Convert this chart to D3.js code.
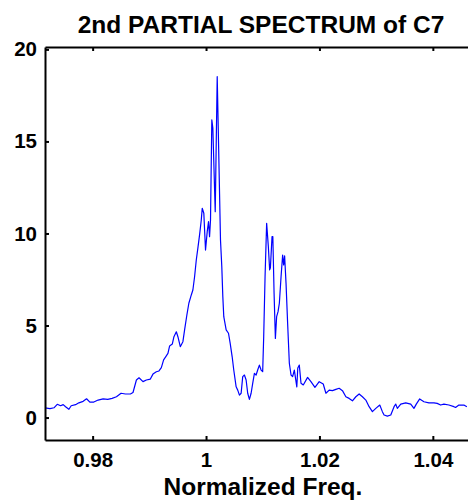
<!DOCTYPE html>
<html>
<head>
<meta charset="utf-8">
<script src="https://cdn.jsdelivr.net/npm/d3@7"></script>
<style>
  body { margin: 0; background: #fff; }
  svg { display: block; font-family: "Liberation Sans", Arial, sans-serif; }
</style>
</head>
<body>
<svg id="chart" width="468" height="501"></svg>
<script>
// values
const freq = [0.97142, 0.97247, 0.97318, 0.97376, 0.97435, 0.97481, 0.97523, 0.97581, 0.97622, 0.97699,
  0.97757, 0.97833, 0.97893, 0.97951, 0.98021, 0.98097, 0.98185, 0.98267, 0.98343, 0.9842,
  0.98501, 0.98579, 0.98667, 0.98712, 0.98772, 0.98818, 0.98888, 0.98948, 0.99018, 0.99064,
  0.99124, 0.9917, 0.99212, 0.99252, 0.99288, 0.99328, 0.99358, 0.99405, 0.99434, 0.99476,
  0.99504, 0.99546, 0.99592, 0.99622, 0.99662, 0.99697, 0.9974, 0.99768, 0.99798, 0.99828,
  0.99856, 0.99886, 0.99916, 0.99933, 0.99961, 0.99991, 1.00021, 1.00044, 1.00062, 1.00079,
  1.00102, 1.0012, 1.00162, 1.00197, 1.00255, 1.00278, 1.00296, 1.00313, 1.00355, 1.00396,
  1.00426, 1.00461, 1.00489, 1.00531, 1.00559, 1.00589, 1.00619, 1.00647, 1.00677, 1.00707,
  1.00735, 1.00765, 1.00795, 1.00823, 1.00853, 1.00883, 1.00911, 1.00941, 1.00971, 1.00999,
  1.01017, 1.01041, 1.01069, 1.01099, 1.01122, 1.01135, 1.01164, 1.01178, 1.012, 1.01223,
  1.01245, 1.0127, 1.01293, 1.01323, 1.01351, 1.01369, 1.01386, 1.01411, 1.01439, 1.01469,
  1.01499, 1.01527, 1.01557, 1.01601, 1.01618, 1.01645, 1.01675, 1.01715, 1.01791, 1.0185,
  1.01921, 1.01996, 1.02067, 1.02114, 1.02172, 1.0223, 1.0229, 1.02348, 1.02406, 1.02466,
  1.02524, 1.02582, 1.02642, 1.027, 1.02758, 1.02818, 1.02876, 1.02934, 1.02994, 1.03064,
  1.0311, 1.0314, 1.03198, 1.03258, 1.03316, 1.03346, 1.03374, 1.03434, 1.03522, 1.0361,
  1.03667, 1.03708, 1.03768, 1.03843, 1.03931, 1.04019, 1.04077, 1.04137, 1.04195, 1.04283,
  1.04371, 1.04401, 1.04459, 1.04547, 1.046];

const amp = [0.53, 0.48, 0.53, 0.72, 0.64, 0.70, 0.59, 0.45, 0.64, 0.70,
  0.80, 0.88, 1.02, 0.84, 0.84, 0.95, 1.01, 0.99, 1.04, 1.13,
  1.32, 1.28, 1.28, 1.36, 2.04, 2.16, 1.95, 2.04, 2.09, 2.36,
  2.49, 2.53, 2.71, 3.13, 3.30, 3.49, 3.89, 3.99, 4.39, 4.66,
  4.39, 3.85, 4.12, 4.76, 5.57, 6.21, 6.66, 6.93, 7.65, 8.56,
  9.20, 9.92, 10.73, 11.37, 11.10, 9.10, 10.10, 10.64, 9.83, 10.73,
  16.17, 15.73, 11.18, 18.52, 9.65, 8.20, 6.57, 5.48, 4.76, 4.58,
  4.03, 3.30, 2.58, 1.67, 1.49, 1.22, 1.32, 2.22, 2.31, 2.04,
  1.32, 0.99, 1.32, 1.86, 2.40, 2.31, 2.58, 2.85, 2.58, 2.49,
  4.39, 7.65, 10.55, 9.28, 8.02, 8.13, 9.83, 9.83, 6.75, 4.30,
  5.48, 5.75, 6.21, 7.65, 8.83, 8.29, 8.78, 7.29, 5.12, 2.95,
  2.31, 2.22, 2.58, 1.67, 2.69, 2.85, 1.86, 1.77, 2.18, 1.95,
  1.64, 1.95, 1.82, 1.32, 1.49, 1.46, 1.53, 1.59, 1.46, 1.13,
  1.04, 0.91, 1.13, 1.28, 1.13, 0.95, 0.59, 0.32, 0.50, 0.68,
  0.32, 0.14, 0.08, 0.14, 0.59, 0.73, 0.50, 0.73, 0.80, 0.73,
  0.50, 0.73, 1.01, 0.86, 0.80, 0.80, 0.77, 0.68, 0.73, 0.68,
  0.59, 0.55, 0.68, 0.68, 0.59];

const xTicks = [0.98, 1, 1.02, 1.04];
const yTicks = [0, 5, 10, 15, 20];

const titleText = "2nd PARTIAL SPECTRUM of C7";
const xLabelText = "Normalized Freq.";

let svg = d3.select("#chart");

let plotLeft = 45, plotRight = 468, plotTop = 47, plotBottom = 440;

let xScale = d3.scaleLinear()
  .domain([0.9716, 1.0462])
  .range([plotLeft, plotRight]);

let yScale = d3.scaleLinear()
  .domain([-1.22, 20.13])
  .range([plotBottom, plotTop]);

svg.append("clipPath")
  .attr("id", "plotClip")
  .append("rect")
  .attr("x", plotLeft)
  .attr("y", plotTop)
  .attr("width", plotRight - plotLeft)
  .attr("height", plotBottom - plotTop);

let points = freq.map((f, i) => [f, amp[i]]);

svg.append("path")
  .datum(points)
  .attr("clip-path", "url(#plotClip)")
  .attr("fill", "none")
  .attr("stroke", "#0000ff")
  .attr("stroke-width", 1.2)
  .attr("stroke-linejoin", "round")
  .attr("d", d3.line().x(d => xScale(d[0])).y(d => yScale(d[1])));

// bottom axis
let xAxis = svg.append("g")
  .attr("transform", `translate(0,${plotBottom})`)
  .call(d3.axisBottom(xScale).tickValues(xTicks).tickFormat(d3.format("")).tickSizeInner(-4).tickSizeOuter(0).tickPadding(12));

// top axis, ticks only
let topAxis = svg.append("g")
  .attr("transform", `translate(0,${plotTop})`)
  .call(d3.axisTop(xScale).tickValues(xTicks).tickFormat("").tickSizeInner(-4).tickSizeOuter(0));

// left axis
let yAxis = svg.append("g")
  .attr("transform", `translate(${plotLeft},0)`)
  .call(d3.axisLeft(yScale).tickValues(yTicks).tickSizeInner(-4).tickSizeOuter(0).tickPadding(8));

[xAxis, topAxis, yAxis].forEach(g => {
  g.select(".domain").attr("stroke", "#000").attr("stroke-width", 2);
  g.selectAll(".tick line").attr("stroke", "#000").attr("stroke-width", 2);
  g.selectAll(".tick text")
    .attr("fill", "#000")
    .style("font-family", "'Liberation Sans', Arial, sans-serif")
    .style("font-size", "20.5px")
    .style("font-weight", "bold");
});

svg.append("text")
  .text(titleText)
  .attr("x", 261)
  .attr("y", 33)
  .attr("text-anchor", "middle")
  .style("font-size", "24.5px")
  .style("font-weight", "bold");

svg.append("text")
  .text(xLabelText)
  .attr("x", 263)
  .attr("y", 495)
  .attr("text-anchor", "middle")
  .style("font-size", "24.5px")
  .style("font-weight", "bold");
</script>
</body>
</html>
